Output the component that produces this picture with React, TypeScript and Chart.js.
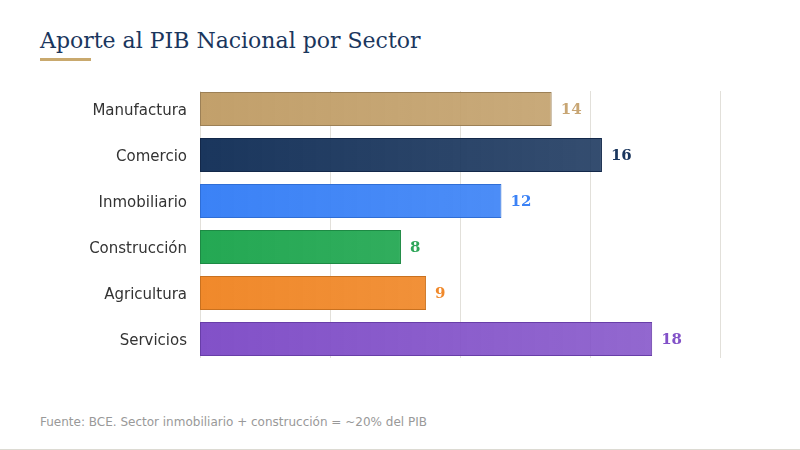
import React, { useEffect, useRef } from "react";
import { Chart, registerables } from "chart.js";

Chart.register(...registerables);

const categories = ["Manufactura", "Comercio", "Inmobiliario", "Construcción", "Agricultura", "Servicios"];
const values = [14, 16, 12, 8, 9, 18];
const baseColors = ["#c2a06b", "#1a365d", "#3b82f6", "#24a853", "#f0892b", "#8251c8"];
const borderColors = ["#9c8056", "#13284a", "#2f6ed6", "#1d8a44", "#c9711f", "#683ea8"];
const labelColors = ["#c8a674", "#1a365d", "#3b82f6", "#2ea659", "#f0892b", "#8251c8"];

function hexToRgba(hex: string, a: number) {
  const n = parseInt(hex.slice(1), 16);
  return `rgba(${(n >> 16) & 255},${(n >> 8) & 255},${n & 255},${a})`;
}

const gridLines = {
  id: "gridLines",
  beforeDatasetsDraw(chart: any) {
    const { ctx, chartArea } = chart;
    const xs = chart.scales.x;
    ctx.save();
    ctx.strokeStyle = "#e2e0da";
    ctx.lineWidth = 1;
    xs.ticks.forEach((t: any) => {
      const px = Math.round(xs.getPixelForValue(t.value)) + 0.5;
      ctx.beginPath();
      ctx.moveTo(px, chartArea.top + 5);
      ctx.lineTo(px, chartArea.bottom - 4);
      ctx.stroke();
    });
    ctx.restore();
  },
};

const valueLabels = {
  id: "valueLabels",
  afterDatasetsDraw(chart: any) {
    const ctx = chart.ctx;
    const meta = chart.getDatasetMeta(0);
    ctx.save();
    ctx.font = "bold 15px 'DejaVu Serif'";
    ctx.textAlign = "left";
    ctx.textBaseline = "middle";
    meta.data.forEach((bar: any, i: number) => {
      ctx.fillStyle = labelColors[i];
      ctx.fillText(String(values[i]), bar.x + 9, bar.y + 1);
    });
    ctx.restore();
  },
};

export default function App() {
  const ref = useRef<HTMLCanvasElement | null>(null);

  useEffect(() => {
    if (!ref.current) return;
    const chart = new Chart(ref.current, {
      type: "bar",
      data: {
        labels: categories,
        datasets: [
          {
            data: values,
            backgroundColor: (c: any) => {
              const area = c.chart.chartArea;
              const base = baseColors[c.dataIndex] || baseColors[0];
              if (!area) return base;
              const g = c.chart.ctx.createLinearGradient(area.left, 0, area.right, 0);
              g.addColorStop(0, hexToRgba(base, 1));
              g.addColorStop(1, hexToRgba(base, 0.85));
              return g;
            },
            borderColor: borderColors,
            borderWidth: 1,
            borderSkipped: false,
            barPercentage: 0.74,
            categoryPercentage: 1,
          },
        ],
      },
      options: {
        indexAxis: "y",
        animation: false,
        responsive: true,
        maintainAspectRatio: false,
        layout: { padding: { top: 16, bottom: 18, left: 0, right: 80 } },
        plugins: { legend: { display: false }, tooltip: { enabled: false } },
        scales: {
          x: {
            min: 0,
            max: Math.max(...values) * 1.15,
            ticks: { display: false, count: 5 },
            grid: { display: false, drawTicks: false },
            border: { display: false },
            afterFit: (s: any) => {
              s.height = 0;
              s.paddingLeft = 0;
              s.paddingRight = 0;
              s.paddingTop = 0;
              s.paddingBottom = 0;
            },
          },
          y: {
            grid: { display: false, drawTicks: false },
            border: { display: false },
            ticks: {
              color: "#333333",
              padding: 13,
              labelOffset: 2,
              font: { family: "'DejaVu Sans'", size: 15 },
            },
            afterFit: (s: any) => {
              s.width = 200;
              s.paddingTop = 0;
              s.paddingBottom = 0;
              s.paddingLeft = 0;
              s.paddingRight = 0;
            },
          },
        },
      },
      plugins: [gridLines, valueLabels],
    });
    return () => chart.destroy();
  }, []);

  return (
    <div
      style={{
        position: "fixed",
        left: 0,
        top: 0,
        width: 800,
        height: 450,
        boxSizing: "border-box",
        background: "#ffffff",
        borderBottom: "1px solid #dcdad2",
      }}
    >
      <div
        style={{
          position: "absolute",
          left: 40,
          top: 28,
          fontFamily: "'DejaVu Serif'",
          fontSize: 22,
          lineHeight: "26px",
          color: "#1a365d",
          whiteSpace: "nowrap",
        }}
      >
        Aporte al PIB Nacional por Sector
      </div>
      <div style={{ position: "absolute", left: 40, top: 58, width: 51, height: 3, background: "#c9a96e" }} />
      <div style={{ position: "absolute", left: 0, top: 70, width: 800, height: 310 }}>
        <canvas ref={ref} />
      </div>
      <div
        style={{
          position: "absolute",
          left: 40,
          top: 415,
          fontFamily: "'DejaVu Sans'",
          fontSize: 12,
          lineHeight: "14px",
          color: "#999999",
          whiteSpace: "nowrap",
        }}
      >
        Fuente: BCE. Sector inmobiliario + construcción = ~20% del PIB
      </div>
    </div>
  );
}
